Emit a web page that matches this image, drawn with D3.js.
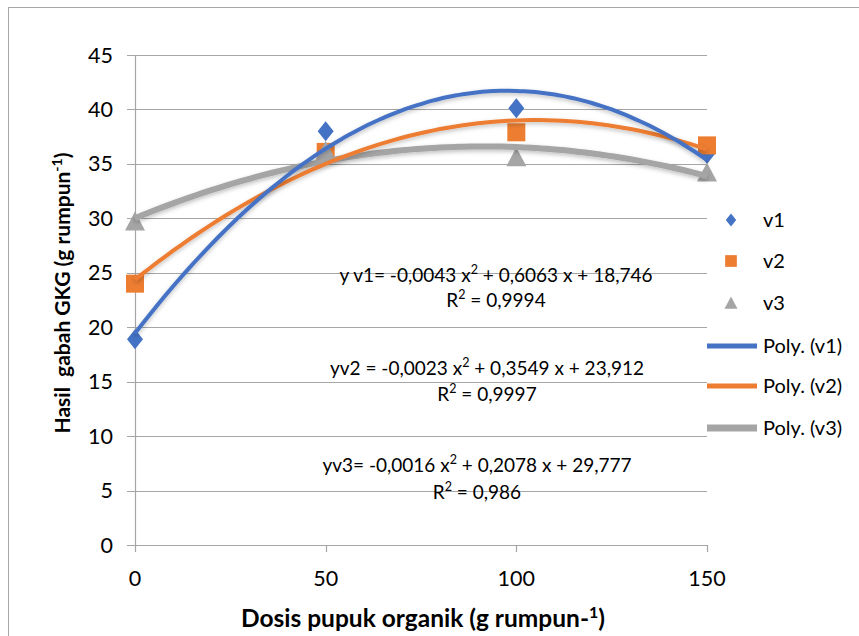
<!DOCTYPE html>
<html>
<head>
<meta charset="utf-8">
<script src="https://cdn.jsdelivr.net/npm/d3@7"></script>
<style>
  body { margin: 0; background: #fff; }
  text { font-family: Lato, "Open Sans", sans-serif; fill: #000; white-space: pre; }
</style>
</head>
<body>
<div id="chart"></div>
<script>
// data
var doses = [0, 50, 100, 150];
var v1 = [18.9, 38.0, 40.1, 35.9];
var v2 = [24.0, 36.1, 37.9, 36.7];
var v3 = [29.7, 36.2, 35.6, 34.2];
var seriesNames = ['v1', 'v2', 'v3'];
var colors = ['#4472C4', '#ED7D31', '#A5A5A5'];
var yTicks = [0, 5, 10, 15, 20, 25, 30, 35, 40, 45];
var xTicks = [0, 50, 100, 150];
var equations = [
  {eq: 'y v1= -0,0043 x', rest: ' + 0,6063 x + 18,746', r2: '0,9994'},
  {eq: 'yv2 = -0,0023 x', rest: ' + 0,3549 x + 23,912', r2: '0,9997'},
  {eq: 'yv3= -0,0016 x', rest: ' + 0,2078 x + 29,777', r2: '0,986'}
];

var width = 859, height = 636;
var x = d3.scaleLinear().domain([0, 150]).range([135, 707]);
var y = d3.scaleLinear().domain([0, 45]).range([545, 55]);

var svg = d3.select('#chart').append('svg')
  .attr('width', width).attr('height', height);

var defs = svg.append('defs');
defs.append('filter').attr('id', 'shadow')
  .attr('x', '-10%').attr('y', '-10%').attr('width', '120%').attr('height', '140%')
  .append('feDropShadow')
  .attr('dx', 0).attr('dy', 2).attr('stdDeviation', 2)
  .attr('flood-color', '#000').attr('flood-opacity', 0.25);

svg.append('rect')
  .attr('x', 8.5).attr('y', 7.5).attr('width', 900).attr('height', 700)
  .attr('fill', 'none').attr('stroke', '#a6a6a6');

// gridlines
svg.append('g').selectAll('line').data(yTicks).join('line')
  .attr('x1', 127).attr('x2', x(150))
  .attr('y1', d => Math.round(y(d)) + 0.5).attr('y2', d => Math.round(y(d)) + 0.5)
  .attr('stroke', '#a6a6a6').attr('stroke-width', 1.2);

// y axis line
svg.append('line')
  .attr('x1', x(0) + 0.5).attr('x2', x(0) + 0.5)
  .attr('y1', y(45)).attr('y2', y(0) + 7)
  .attr('stroke', '#a6a6a6').attr('stroke-width', 1.2);

// x ticks
svg.append('g').selectAll('line').data(xTicks.slice(1)).join('line')
  .attr('x1', d => Math.round(x(d)) + 0.5).attr('x2', d => Math.round(x(d)) + 0.5)
  .attr('y1', y(0)).attr('y2', y(0) + 7)
  .attr('stroke', '#a6a6a6').attr('stroke-width', 1.2);

svg.append('g').selectAll('text').data(yTicks).join('text')
  .attr('x', 113).attr('y', d => y(d) + 7.5)
  .attr('text-anchor', 'end').attr('font-size', 21.5)
  .text(d => d);

svg.append('g').selectAll('text').data(xTicks).join('text')
  .attr('x', d => x(d)).attr('y', 586)
  .attr('text-anchor', 'middle').attr('font-size', 21.5)
  .text(d => d);

// axis titles
var xt = svg.append('text')
  .attr('x', 423).attr('y', 627).attr('text-anchor', 'middle')
  .attr('font-size', 24.5).attr('font-weight', 'bold');
xt.append('tspan').text('Dosis pupuk organik (g rumpun-');
xt.append('tspan').attr('dy', -9).attr('font-size', 16).text('1');
xt.append('tspan').attr('dy', 9).text(')');

var yt = svg.append('text')
  .attr('transform', 'translate(70,293) rotate(-90)').attr('text-anchor', 'middle')
  .attr('font-size', 21).attr('font-weight', 'bold');
yt.append('tspan').text('Hasil  gabah GKG (g rumpun');
yt.append('tspan').attr('dy', -8).attr('font-size', 14).text('-1');
yt.append('tspan').attr('dy', 8).text(')');

// markers
var allSeries = [v1, v2, v3];
function marker(i) {
  if (i === 0) return 'M0,-10L8,0L0,10L-8,0Z';
  if (i === 1) return 'M-9,-9H9V9H-9Z';
  return 'M0,-10L10,9H-10Z';
}
allSeries.forEach(function(vals, i) {
  svg.append('g').selectAll('path').data(vals).join('path')
    .attr('transform', (d, j) => 'translate(' + x(doses[j]) + ',' + y(d) + ')')
    .attr('d', marker(i))
    .attr('fill', colors[i]);
});

// quadratic least squares trendline from the points
function quadFit(xs, ys) {
  var n = xs.length, s = [0, 0, 0, 0, 0], t = [0, 0, 0];
  for (var k = 0; k < n; k++) {
    for (var p = 0; p < 5; p++) s[p] += Math.pow(xs[k], p);
    for (var q = 0; q < 3; q++) t[q] += ys[k] * Math.pow(xs[k], q);
  }
  var A = [[s[0], s[1], s[2], t[0]], [s[1], s[2], s[3], t[1]], [s[2], s[3], s[4], t[2]]];
  for (var c = 0; c < 3; c++) {
    for (var r = c + 1; r < 3; r++) {
      var f = A[r][c] / A[c][c];
      for (var m = c; m < 4; m++) A[r][m] -= f * A[c][m];
    }
  }
  var b = [0, 0, 0];
  for (var r2 = 2; r2 >= 0; r2--) {
    var sum = A[r2][3];
    for (var m2 = r2 + 1; m2 < 3; m2++) sum -= A[r2][m2] * b[m2];
    b[r2] = sum / A[r2][r2];
  }
  return function(xv) { return b[0] + b[1] * xv + b[2] * xv * xv; };
}

var line = d3.line().x(d => x(d[0])).y(d => y(d[1])).curve(d3.curveMonotoneX);
var widths = [4, 4, 6];
[2, 1, 0].forEach(function(i) {
  var f = quadFit(doses, allSeries[i]);
  var pts = d3.range(0, 150.01, 2).map(xv => [xv, f(xv)]);
  svg.append('path').datum(pts)
    .attr('d', line)
    .attr('fill', 'none').attr('stroke', colors[i])
    .attr('stroke-width', widths[i]).attr('filter', 'url(#shadow)');
});

// equation labels
var eqPos = [[496, 282, 307], [487, 375, 401], [477, 472, 499]];
equations.forEach(function(e, i) {
  var t = svg.append('text').attr('x', eqPos[i][0]).attr('y', eqPos[i][1])
    .attr('text-anchor', 'middle').attr('font-size', 19);
  t.append('tspan').text(e.eq);
  t.append('tspan').attr('dy', -8).attr('font-size', 12.5).text('2');
  t.append('tspan').attr('dy', 8).text(e.rest);
  var r = svg.append('text').attr('x', eqPos[i][0]).attr('y', eqPos[i][2])
    .attr('text-anchor', 'middle').attr('font-size', 19);
  r.append('tspan').text('R');
  r.append('tspan').attr('dy', -8).attr('font-size', 12.5).text('2');
  r.append('tspan').attr('dy', 8).text(' = ' + e.r2);
});

// legend
var legY = [220, 261, 303, 346, 386, 428];
var leg = svg.append('g');
seriesNames.forEach(function(name, i) {
  var g = leg.append('g').attr('transform', 'translate(731,' + legY[i] + ')');
  g.append('path').attr('d', marker(i)).attr('fill', colors[i])
    .attr('transform', 'scale(0.65)');
  g.append('text').attr('x', 32).attr('y', 7).attr('font-size', 20).text(name);
});
seriesNames.forEach(function(name, i) {
  var g = leg.append('g').attr('transform', 'translate(0,' + legY[i + 3] + ')');
  g.append('line').attr('x1', 707).attr('x2', 757)
    .attr('stroke', colors[i]).attr('stroke-width', widths[i] + 1);
  g.append('text').attr('x', 763).attr('y', 7).attr('font-size', 20)
    .text('Poly. (' + name + ')');
});
</script>
</body>
</html>
